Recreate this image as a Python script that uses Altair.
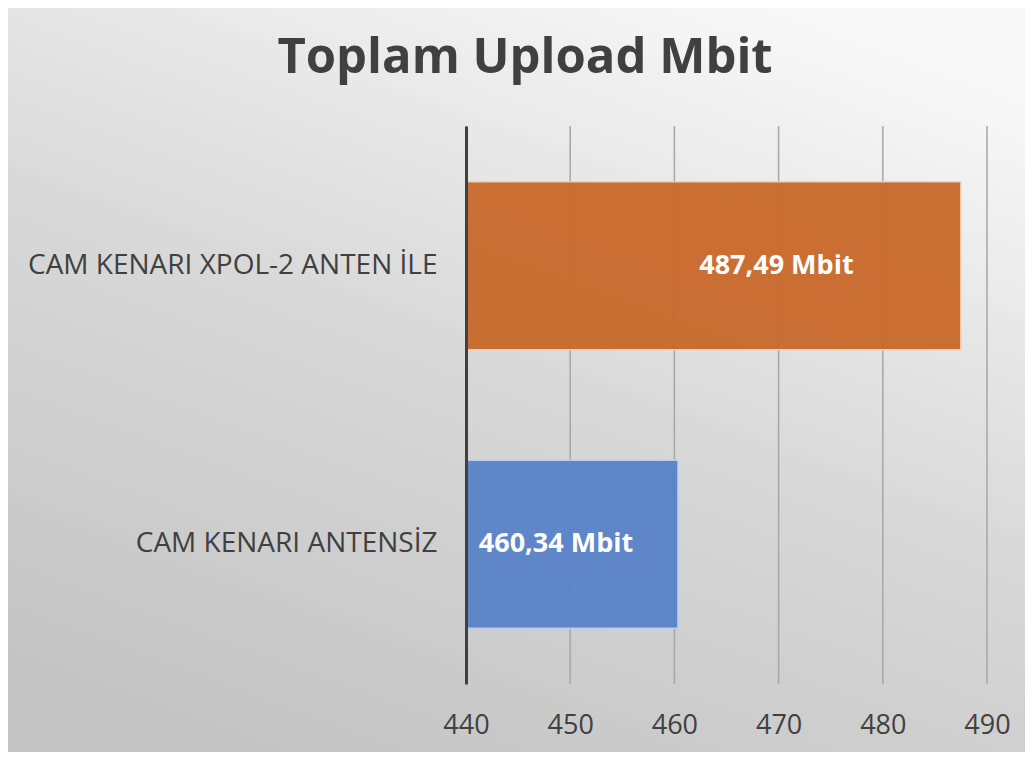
import altair as alt
import pandas as pd

categories = ["CAM KENARI XPOL-2 ANTEN İLE", "CAM KENARI ANTENSİZ"]
values = [487.49, 460.34]
labels = ["487,49 Mbit", "460,34 Mbit"]
colors = ["#C96A2D", "#5B83C9"]
strokes = ["#F3CFB2", "#B9CDEE"]
tick_values = [440, 450, 460, 470, 480, 490]
title_text = "Toplam Upload Mbit"

W, H = 521, 558
PL, PT, PR, PB = 458, 118, 38, 68

df = pd.DataFrame({"cat": categories, "val": values, "lab": labels,
                   "col": colors, "stk": strokes})
ticks = pd.DataFrame({"t": tick_values})

xscale = alt.Scale(domain=[440, 490], nice=False, zero=False)
yscale = alt.Scale(domain=categories, paddingInner=0.396, paddingOuter=0.2)

bg = alt.Chart(pd.DataFrame({"a": [0]})).mark_rect(
    color=alt.LinearGradient(
        gradient="linear",
        stops=[alt.GradientStop(color="#C4C4C4", offset=0),
               alt.GradientStop(color="#D8D8D8", offset=0.5),
               alt.GradientStop(color="#F8F8F8", offset=1)],
        x1=0.25, y1=1, x2=0.75, y2=0),
).encode(x=alt.value(-PL), x2=alt.value(W + PR),
         y=alt.value(-PT), y2=alt.value(H + PB))

grid = alt.Chart(ticks).mark_rule(color="#A6A6A6", strokeWidth=1.5).encode(
    x=alt.X("t:Q", scale=xscale,
            axis=alt.Axis(values=tick_values, grid=False, domain=False, ticks=False,
                          labelFontSize=27, labelColor="#404040", labelFont="Open Sans",
                          labelPadding=28, labelFlush=False, labelOverlap=False,
                          title=None, zindex=1)),
    y=alt.value(0), y2=alt.value(H))

base = alt.Chart(df)
bars = base.mark_bar(opacity=0.96, strokeWidth=1.5).encode(
    x=alt.X("val:Q", scale=xscale),
    x2=alt.datum(440),
    y=alt.Y("cat:N", scale=yscale, sort=categories,
            axis=alt.Axis(domain=True, domainColor="#404040", domainWidth=3,
                          ticks=False, grid=False, labelFontSize=28,
                          labelColor="#404040", labelFont="Open Sans",
                          labelPadding=29, labelLimit=500, title=None, zindex=1)),
    color=alt.Color("col:N", scale=None),
    stroke=alt.Stroke("stk:N", scale=None),
)

def lab_layer(cat, dx):
    return base.transform_filter(alt.datum.cat == cat).transform_calculate(
        mid="(440 + datum.val) / 2").mark_text(
        color="white", fontSize=27, fontWeight="bold", font="Open Sans",
        align="center", baseline="middle", dx=dx).encode(
        x=alt.X("mid:Q", scale=xscale),
        y=alt.Y("cat:N", scale=yscale, sort=categories),
        text="lab:N")

t1 = lab_layer(categories[0], 63)
t2 = lab_layer(categories[1], -16)

title = alt.Chart(pd.DataFrame({"t": [title_text]})).mark_text(
    fontSize=49, fontWeight="bold", font="Open Sans", color="#404040",
    align="center", baseline="middle").encode(
    x=alt.value(525 - 466), y=alt.value(58 - 126), text="t:N")

chart = alt.layer(bg, grid, bars, t1, t2, title).properties(
    width=W, height=H,
    padding={"left": PL, "top": PT, "right": PR, "bottom": PB},
    autosize=alt.AutoSizeParams(type="none"),
).configure_view(stroke=None)

chart.save("out.html", embed_options={"renderer": "svg", "actions": False})
